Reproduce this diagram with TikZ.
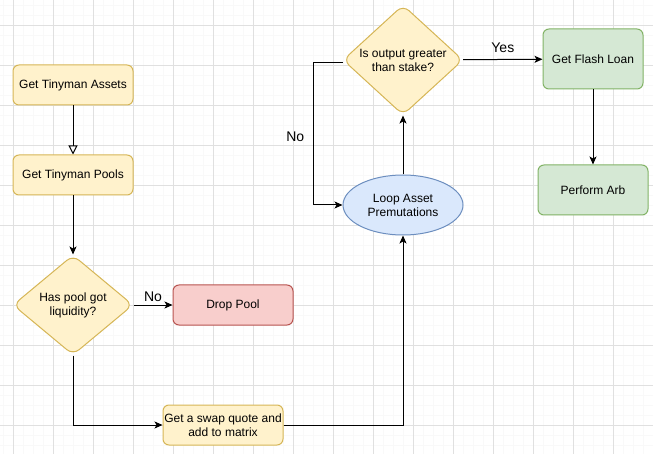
\documentclass[tikz,border=0pt]{standalone}
\usepackage{fontspec}
\setmainfont{Liberation Sans}
\usetikzlibrary{arrows.meta,shapes.geometric,positioning}

\definecolor{ylwfill}{HTML}{FFF2CC}
\definecolor{ylwline}{HTML}{D6B656}
\definecolor{redfill}{HTML}{F8CECC}
\definecolor{redline}{HTML}{B85450}
\definecolor{grnfill}{HTML}{D5E8D4}
\definecolor{grnline}{HTML}{82B366}
\definecolor{blufill}{HTML}{DAE8FC}
\definecolor{bluline}{HTML}{6C8EBF}

\tikzset{
    stepbox/.style={draw=ylwline,fill=ylwfill,rounded corners=6pt,line width=1pt,
        minimum width=120pt,minimum height=40pt,align=center,inner sep=1pt},
    decision/.style={diamond,draw=ylwline,fill=ylwfill,rounded corners=8pt,line width=1pt,
        aspect=1.2,inner sep=0pt,align=center},
    flow/.style={line width=1pt,-{Stealth[length=8pt,width=7pt,inset=2pt]}},
    openflow/.style={line width=1pt,-{Triangle[open,length=9pt,width=9pt]}},
    flowlabel/.style={font=\fontsize{14}{16}\selectfont},
    gridmajor/.style={draw=black!12,line width=0.8pt},
    gridminor/.style={draw=black!2.5,line width=0.5pt},
}

\begin{document}
\begin{tikzpicture}[x=1pt,y=-1pt,font=\fontsize{12}{14}\selectfont]
    \useasboundingbox (0,0) rectangle (653,454);
    \fill[white] (0,0) rectangle (653,454);

    % background grid
    \foreach \gx in {3,13,...,653} \draw[gridminor] (\gx,0) -- (\gx,454);
    \foreach \gy in {5,15,...,454} \draw[gridminor] (0,\gy) -- (653,\gy);
    \foreach \gx in {13,53,...,653} \draw[gridmajor] (\gx,0) -- (\gx,454);
    \foreach \gy in {25,65,...,454} \draw[gridmajor] (0,\gy) -- (653,\gy);

    % left column
    \node[stepbox] (assets) at (73,85) {Get Tinyman Assets};
    \node[stepbox] (pools) at (73,175) {Get Tinyman Pools};
    \node[decision,minimum width=120pt,minimum height=100pt] (liquid) at (73,305)
        {Has pool got\\liquidity?};
    \node[stepbox,draw=redline,fill=redfill] (drop) at (233,305) {Drop Pool};
    \node[stepbox] (swap) at (223,425) {Get a swap quote and\\add to matrix};

    % loop and check
    \node[ellipse,draw=bluline,fill=blufill,line width=1pt,minimum width=120pt,
        minimum height=60pt,align=center,inner sep=0pt] (loop) at (403,205)
        {Loop Asset\\Premutations};
    \node[decision,minimum width=120pt,minimum height=110pt] (output) at (403,60)
        {Is output greater\\than stake?};
    \node[stepbox,draw=grnline,fill=grnfill,minimum width=100pt,minimum height=60pt]
        (flash) at (593,59) {Get Flash Loan};
    \node[stepbox,draw=grnline,fill=grnfill,minimum width=110pt,minimum height=50pt]
        (arb) at (593,190) {Perform Arb};
    \coordinate (noturn) at (313,63);

    % connectors
    \draw[openflow] (assets) -- (pools);
    \draw[flow] (pools) -- (liquid);
    \draw[flow] (liquid) -- node[flowlabel,above=0pt] {No} (drop);
    \draw[flow] (liquid.south) |- (swap.west);
    \draw[flow] (swap.east) -| (loop.south);
    \draw[flow] (loop) -- (output);
    \draw[flow] ([yshift=-3pt]output.west) -- (noturn)
        |- node[flowlabel,pos=0.26,left=5pt] {No} (loop.west);
    \draw[flow] (output) -- node[flowlabel,above=3pt] {Yes} (flash);
    \draw[flow] (flash) -- (arb);
\end{tikzpicture}
\end{document}
